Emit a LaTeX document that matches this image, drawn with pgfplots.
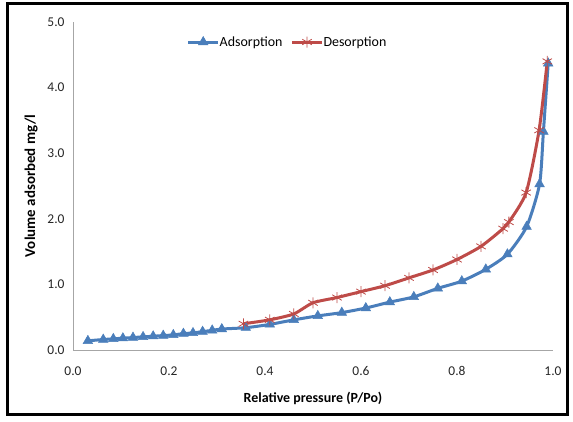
\documentclass[border=0pt]{standalone}
\usepackage{pgfplots}
\pgfplotsset{compat=1.18}
\usepackage{fontspec}
\setmainfont{Carlito}
\definecolor{adsblue}{HTML}{4A7EBB}
\definecolor{desred}{HTML}{BE4B48}
\definecolor{axgray}{HTML}{A6A6A6}
\begin{document}
\begin{tikzpicture}[x=1bp,y=1bp]
\useasboundingbox (-73,-71) rectangle (500,350);
\draw[line width=3bp,black] (-65.5,-64.5) rectangle (494.5,346.5);
\begin{axis}[
  at={(0,0)}, anchor=south west,
  scale only axis, width=480bp, height=328bp,
  xmin=0, xmax=1, ymin=0, ymax=5,
  axis x line=bottom, axis y line=left,
  axis line style={axgray, line width=0.8bp, -},
  xtick={0,0.2,0.4,0.6,0.8,1.0},
  ytick={0,1,2,3,4,5},
  major tick length=0pt,
  /pgf/number format/fixed,
  /pgf/number format/fixed zerofill,
  /pgf/number format/precision=1,
  /pgf/number format/assume math mode=true,
  tick label style={font=\fontsize{13.5}{15}\selectfont, text=black!85},
  xticklabel style={yshift=-13bp},
  yticklabel style={xshift=-5bp},
  xlabel={\textbf{Relative pressure (P/Po)}},
  ylabel={\textbf{Volume adsorbed mg/l}},
  xlabel style={font=\fontsize{14}{16}\selectfont, yshift=-9bp},
  ylabel style={font=\fontsize{15}{17}\selectfont, yshift=3bp},
  legend style={at={(0.447,0.939)}, anchor=center, draw=none, fill=none,
    font=\fontsize{14}{16}\selectfont, legend columns=2,
    /tikz/every even column/.append style={column sep=6bp},
    /tikz/every odd column/.append style={column sep=-2bp}},
  legend image code/.code={%
    \draw[#1, mark repeat=2, mark phase=2] plot coordinates {(0bp,0bp) (15bp,0bp) (30bp,0bp)};},
  legend cell align=left,
  clip=false,
]
\addplot[adsblue, line width=3bp, smooth, tension=0.4, mark=triangle*,
  mark size=5.5bp, mark options={solid, line width=0.5bp, fill=adsblue}]
coordinates {
(0.031,0.14) (0.063,0.16) (0.084,0.17) (0.104,0.18) (0.125,0.19)
(0.146,0.20) (0.167,0.21) (0.188,0.22) (0.209,0.23) (0.230,0.25)
(0.250,0.26) (0.270,0.28) (0.290,0.30) (0.310,0.32) (0.360,0.34)
(0.410,0.39) (0.460,0.46) (0.510,0.52) (0.560,0.57) (0.610,0.64)
(0.660,0.73) (0.710,0.81) (0.760,0.94) (0.810,1.05) (0.860,1.23)
(0.905,1.46) (0.945,1.88) (0.972,2.53) (0.980,3.33) (0.990,4.37)
};
\addlegendentry{Adsorption}
\addplot[desred, line width=3bp, smooth, tension=0.4, mark=asterisk,
  mark size=5.5bp, mark options={solid, line width=0.8bp}]
coordinates {
(0.355,0.40) (0.410,0.46) (0.460,0.55) (0.500,0.72) (0.550,0.80)
(0.600,0.89) (0.650,0.98) (0.700,1.10) (0.750,1.22) (0.800,1.38)
(0.850,1.58) (0.896,1.85) (0.908,1.95) (0.944,2.40) (0.971,3.35)
(0.988,4.40)
};
\addlegendentry{Desorption}
\end{axis}
\end{tikzpicture}
\end{document}
